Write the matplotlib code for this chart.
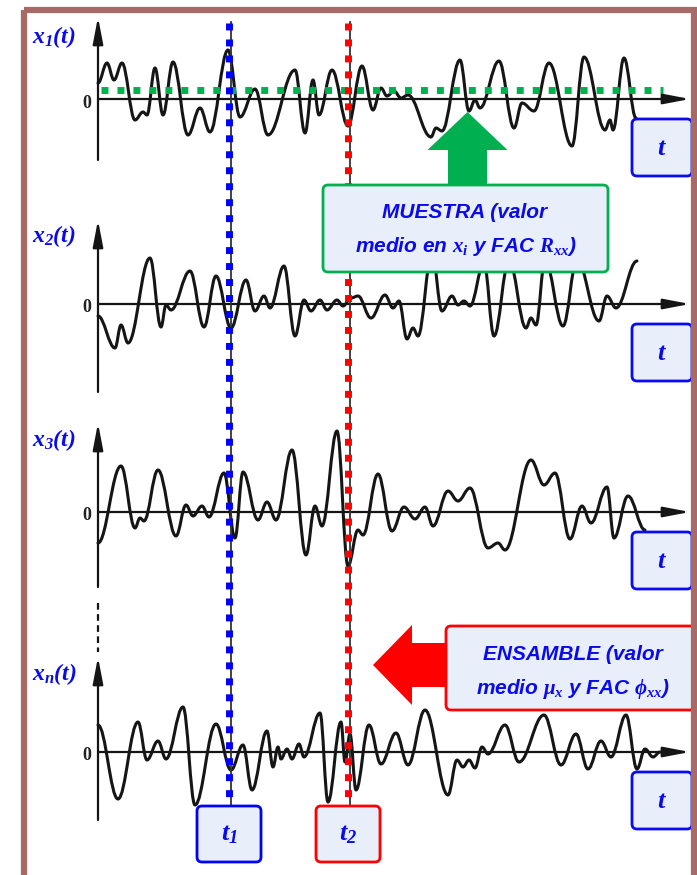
import matplotlib
matplotlib.use("Agg")
import matplotlib.pyplot as plt
from matplotlib.path import Path
from matplotlib.patches import PathPatch, FancyBboxPatch, FancyArrow, Rectangle
from matplotlib.transforms import blended_transform_factory

plt.rcParams["font.family"] = ["Liberation Sans", "DejaVu Sans"]
plt.rcParams["mathtext.fontset"] = "custom"
plt.rcParams["mathtext.rm"] = "Liberation Serif:bold:italic"
plt.rcParams["mathtext.it"] = "Liberation Serif:bold:italic"
plt.rcParams["mathtext.bf"] = "Liberation Serif:bold:italic"

# extrema of each realisation (time, amplitude)
x1_t = [0, 9, 16, 24, 37, 45, 49, 57, 65, 75, 90, 102, 112, 130, 142, 157, 170,
        197, 207, 215, 221, 234, 250, 264, 275, 283, 289, 296, 303, 310, 333, 338,
        344, 362, 371, 377, 382, 401, 416, 424, 436, 451, 474, 486, 507, 512, 515,
        526, 538]
x1_a = [16, 36, 19, 36, -21, -13, -16, 31, -16, 37, -36, -9, -33, 49, -18, 10, -36,
        29, -34, 19, -16, 29, -27, 33, -11, 11, 3, 8, 1, 4, -38, -29,
        -32, 39, -12, -1, -9, 38, -29, -4, -12, 36, -47, 42, -31, -21, -31,
        41, -19]
x1_mean = 9.5

x2_t = [0, 17, 23, 30, 52, 63, 68, 73, 92, 106, 118, 133, 148, 157, 166, 172, 186,
        197, 206, 213, 222, 229, 239, 245, 253, 260, 273, 287, 295, 301, 309, 315,
        320, 334, 344, 354, 360, 366, 372, 386, 396, 411, 428, 433, 438, 447, 465,
        479, 501, 509, 518, 539]
x2_a = [-12, -44, -21, -39, 46, -23, -1, -6, 33, -23, 28, -24, 24, -7, 8, -4, 38,
        -32, 4, -7, 4, -6, 4, -2, 6, 8, -14, 9, -4, 3, -35, -24,
        -32, 51, -7, 8, -1, 3, -2, 41, -32, 44, -24, -14, -21, 44, -22,
        44, -17, 8, -4, 43]

x3_t = [0, 23, 37, 42, 46, 60, 78, 88, 95, 104, 111, 126, 137, 145, 160, 169, 178,
        194, 208, 217, 224, 239, 250, 260, 265, 280, 294, 306, 317, 327, 335, 350,
        360, 372, 390, 400, 407, 433, 446, 457, 472, 484, 493, 509, 516, 530, 547]
x3_a = [-31, 46, -16, -6, -9, 42, -24, 7, -4, 6, -5, 39, -26, 40, -8, 10, -8,
        62, -43, 6, -14, 81, -54, -18, -23, 38, -19, 5, -7, 5, -14, 21,
        11, 24, -36, -31, -38, 52, 27, 39, -27, 6, -11, 25, -26, 16, -18]

xn_t = [0, 20, 40, 49, 60, 68, 85, 97, 118, 133, 145, 154, 169, 175, 180, 183, 189,
        194, 201, 206, 222, 230, 243, 247, 252, 258, 271, 283, 298, 310, 327, 350,
        359, 365, 371, 377, 384, 390, 407, 421, 446, 463, 478, 490, 503, 513, 528,
        539, 547, 555, 562]
xn_a = [27, -47, 30, -8, 11, -7, 45, -53, 28, -18, 7, -38, 21, -15, 5, -7, 3,
        -7, 8, -5, 39, -50, 30, -10, 18, -38, 27, -12, 19, -13, 42, -43,
        -8, -15, -8, -16, 5, -2, 27, -10, 37, -13, 18, -17, 11, -5, 37,
        -17, 3, -5, 0]

signal_t = [x1_t, x2_t, x3_t, xn_t]
signal_a = [x1_a, x2_a, x3_a, xn_a]
signal_labels = [r"$x_1(t)$", r"$x_2(t)$", r"$x_3(t)$", r"$x_n(t)$"]
t1, t2 = 131, 250

BLUE = "#0a0aee"
FILL = "#e9effa"
INK = "#151515"
W, H = 697, 875
X0 = 98
zero_y = [99, 304, 512, 752]
axis_top = [82, 84, 89, 95]
axis_bottom = [-61, -88, -75, -68]
label_y = [37, 236, 440, 674]


def wave_path(ts, amps, k=0.38):
    verts = [(ts[0], amps[0])]
    codes = [Path.MOVETO]
    for i in range(1, len(ts)):
        d = (ts[i] - ts[i - 1]) * k
        verts += [(ts[i - 1] + d, amps[i - 1]), (ts[i] - d, amps[i]), (ts[i], amps[i])]
        codes += [Path.CURVE4] * 3
    return Path(verts, codes)


fig = plt.figure(figsize=(W / 100, H / 100), dpi=100)
arrow_kw = dict(arrowstyle="-|>,head_length=1.15,head_width=0.22", lw=1.6,
                color=INK, shrinkA=0, shrinkB=0, mutation_scale=14)

sig_axes = []
for i, z in enumerate(zero_y):
    ax = fig.add_axes([X0 / W, 1 - (z + 100) / H, 600 / W, 200 / H])
    ax.set_xlim(0, 600)
    ax.set_ylim(-100, 100)
    ax.axis("off")
    ax.add_patch(PathPatch(wave_path(signal_t[i], signal_a[i]), fill=False, lw=2.2,
                           ec=INK, joinstyle="round", capstyle="round", clip_on=False))
    ax.annotate("", xy=(592, 0), xytext=(0, 0), arrowprops=arrow_kw, annotation_clip=False)
    ax.annotate("", xy=(0, axis_top[i]), xytext=(0, axis_bottom[i]),
                arrowprops=arrow_kw, annotation_clip=False)
    sig_axes.append(ax)

# dashed continuation above x_n(t)
sig_axes[3].plot([0, 0], [149, 100], ls=(0, (3, 2)), lw=1.6, color=INK, clip_on=False)
# mean value of the sample x_1
sig_axes[0].plot([3, 565], [x1_mean, x1_mean], color="#00b050", lw=5,
                 ls=(0, (1, 1.3)), clip_on=False)

ov = fig.add_axes([0, 0, 1, 1])
ov.set_xlim(0, W)
ov.set_ylim(H, 0)
ov.axis("off")
ov.patch.set_alpha(0)
tx = blended_transform_factory(sig_axes[0].transData, ov.transData)

for tv, col in [(t1, "#0000ff"), (t2, "#ff0000")]:
    ov.plot([tv + 2, tv + 2], [22, 806], color="#333333", lw=1.3, transform=tx, zorder=1)
    ov.plot([tv, tv], [23, 806], color=col, lw=5, ls=(0, (1, 1.3)), transform=tx, zorder=2)

box_kw = dict(boxstyle="round,pad=0,rounding_size=5", fc=FILL, lw=2, zorder=4)
txt_kw = dict(ha="center", va="center", fontsize=15, fontweight="bold",
              style="italic", color=BLUE, zorder=5)

for i, z in enumerate(zero_y):
    ov.text(32, label_y[i], signal_labels[i], ha="left", va="center", fontsize=17,
            color=BLUE)
    ov.text(91, z + 4, "0", ha="right", va="center", fontsize=13, fontweight="bold",
            family="Liberation Serif", color="#222222")
    ov.add_patch(FancyBboxPatch((632, z + 20), 60, 57, ec=BLUE, **box_kw))
    ov.text(662, z + 49, r"$t$", ha="center", va="center", fontsize=19, color=BLUE,
            zorder=5)

# sample (time average) annotation
ov.add_patch(FancyArrow(467.5, 186, 0, -74, width=39, head_width=80, head_length=38,
                        length_includes_head=True, fc="#00b050", ec="none", zorder=3))
ov.add_patch(FancyBboxPatch((323, 185), 285, 87, ec="#00b050", **box_kw))
ov.text(465, 213, "MUESTRA (valor", **txt_kw)
ov.text(466, 246, r"medio en $x_i$ y FAC $R_{xx}$)", **txt_kw)

# ensemble annotation
ov.add_patch(FancyArrow(447, 665, -74, 0, width=44, head_width=80, head_length=39,
                        length_includes_head=True, fc="#ff0000", ec="none", zorder=3))
ov.add_patch(FancyBboxPatch((446, 626), 249, 84, ec="#ff0000", **box_kw))
ov.text(573, 654, "ENSAMBLE (valor", **txt_kw)
ov.text(573, 689, r"medio $\mu_x$ y FAC $\phi_{xx}$)", **txt_kw)

# time instants
for tv, col, lab in [(t1, "#0000ff", r"$t_1$"), (t2, "#ff0000", r"$t_2$")]:
    ov.add_patch(FancyBboxPatch((tv + X0 - 32, 806), 64, 56, ec=col, **box_kw))
    ov.text(tv + X0, 834, lab, ha="center", va="center", fontsize=19, color=BLUE,
            zorder=5)

ov.add_patch(Rectangle((24, 10), 670, 900, fill=False, ec="#a86a66", lw=4.5, zorder=6))

fig.savefig("out.png", dpi=100)
